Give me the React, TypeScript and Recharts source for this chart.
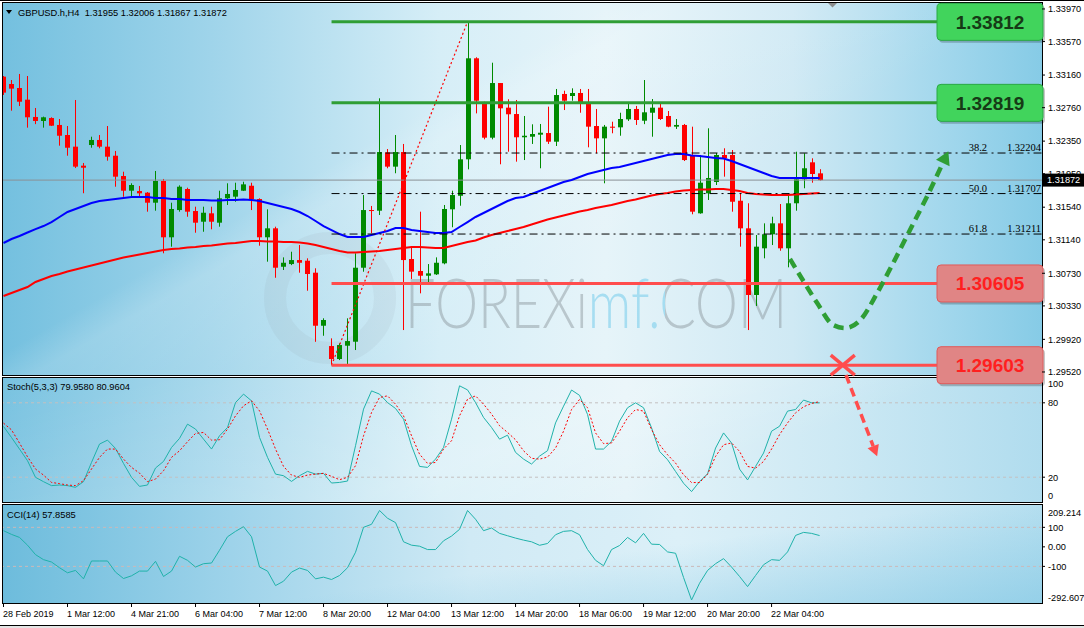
import React from "react";
import { ComposedChart, Bar, Line, XAxis, YAxis, ReferenceLine, ReferenceDot } from "recharts";

// GBPUSD.h H4 candles, 28 Feb - 22 Mar 2019
const opens = [
  1.3314, 1.3305, 1.33001, 1.32858, 1.32646, 1.32597, 1.32633, 1.32548, 1.32425, 1.32282,
  1.32049, 1.32302, 1.32364, 1.32282, 1.32171, 1.31922, 1.31742, 1.31738, 1.31718, 1.31595,
  1.31861, 1.31171, 1.31505, 1.31763, 1.31493, 1.31362, 1.31465, 1.3135, 1.31649, 1.31669,
  1.31742, 1.31803, 1.3164, 1.31171, 1.31281, 1.3081, 1.30843, 1.30892, 1.30884, 1.30737,
  1.30087, 1.29838, 1.29679, 1.29842, 1.29891, 1.30798, 1.31505, 1.31497, 1.32212, 1.32037,
  1.32216, 1.30905, 1.30758, 1.307, 1.30717, 1.30852, 1.31514, 1.3168, 1.32127, 1.33365,
  1.32805, 1.32392, 1.33062, 1.3276, 1.32682, 1.32397, 1.32404, 1.32429, 1.32449, 1.32343,
  1.32928, 1.32903, 1.3294, 1.32814, 1.32535, 1.32384, 1.32527, 1.32519, 1.32617, 1.32744,
  1.326, 1.32698, 1.3276, 1.32658, 1.32527, 1.32548, 1.3218, 1.31465, 1.3171, 1.31849,
  1.3218, 1.3218, 1.31619, 1.31281, 1.30464, 1.31036, 1.31208, 1.31342, 1.31036, 1.31588,
  1.31882, 1.3209, 1.31955,
];
const highs = [
  1.33148, 1.33099, 1.33173, 1.33148, 1.32756, 1.3265, 1.32642, 1.32621, 1.32535, 1.32854,
  1.32082, 1.32404, 1.32425, 1.32535, 1.32229, 1.31975, 1.31833, 1.318, 1.31726, 1.31984,
  1.31886, 1.31595, 1.31808, 1.31779, 1.31546, 1.31546, 1.31546, 1.31742, 1.31833, 1.3184,
  1.31852, 1.3184, 1.31649, 1.31514, 1.31301, 1.30925, 1.30994, 1.31076, 1.30913, 1.30791,
  1.30178, 1.29932, 1.29871, 1.30178, 1.30975, 1.31689, 1.31555, 1.32875, 1.32253, 1.32425,
  1.32315, 1.31056, 1.31485, 1.30843, 1.30925, 1.31567, 1.31742, 1.32302, 1.33812, 1.33378,
  1.32833, 1.33311, 1.33062, 1.32863, 1.32854, 1.32658, 1.32556, 1.3256, 1.32772, 1.32989,
  1.32968, 1.32997, 1.32989, 1.32989, 1.32744, 1.32548, 1.32588, 1.32698, 1.32821, 1.32781,
  1.33099, 1.32866, 1.32805, 1.32719, 1.32621, 1.3256, 1.32527, 1.3218, 1.32507, 1.32204,
  1.32262, 1.32241, 1.3171, 1.31588, 1.31199, 1.31342, 1.31423, 1.31579, 1.3171, 1.3222,
  1.322, 1.32139, 1.32006,
];
const lows = [
  1.32916, 1.32723, 1.3278, 1.32515, 1.32558, 1.32515, 1.32535, 1.32294, 1.32171, 1.3202,
  1.31711, 1.32269, 1.32262, 1.3211, 1.31791, 1.31668, 1.31668, 1.31668, 1.31485, 1.31497,
  1.30975, 1.31056, 1.31485, 1.31423, 1.31227, 1.31239, 1.31269, 1.31301, 1.31567, 1.31607,
  1.31738, 1.31505, 1.31068, 1.30872, 1.30675, 1.3077, 1.3083, 1.30737, 1.30516, 1.2989,
  1.29964, 1.29603, 1.29666, 1.29617, 1.29789, 1.30749, 1.3122, 1.31444, 1.32017, 1.31956,
  1.30034, 1.3066, 1.30484, 1.30586, 1.30709, 1.3084, 1.31294, 1.31558, 1.32004, 1.3269,
  1.32372, 1.32372, 1.32066, 1.3222, 1.32098, 1.32118, 1.32315, 1.32017, 1.32315, 1.3229,
  1.32731, 1.32845, 1.32698, 1.32274, 1.322, 1.31833, 1.32446, 1.32416, 1.32597, 1.32548,
  1.32558, 1.32404, 1.32609, 1.3252, 1.32499, 1.32106, 1.31453, 1.3146, 1.31628, 1.31812,
  1.31914, 1.31485, 1.31056, 1.30034, 1.30329, 1.30913, 1.31076, 1.31006, 1.30803, 1.31497,
  1.31772, 1.3184, 1.31867,
];
const closes = [
  1.32944, 1.32993, 1.32833, 1.32642, 1.32597, 1.32642, 1.32539, 1.32416, 1.32269, 1.32037,
  1.32024, 1.32364, 1.32282, 1.32159, 1.31914, 1.31742, 1.31812, 1.3171, 1.31595, 1.31861,
  1.31171, 1.31518, 1.31791, 1.31485, 1.3135, 1.31472, 1.31362, 1.31649, 1.31702, 1.31751,
  1.3182, 1.31637, 1.31171, 1.31281, 1.30798, 1.30859, 1.30892, 1.30859, 1.30721, 1.30087,
  1.30157, 1.29679, 1.2985, 1.29899, 1.30798, 1.31505, 1.31493, 1.32216, 1.32037, 1.32216,
  1.30892, 1.3075, 1.307, 1.30729, 1.30859, 1.31518, 1.31689, 1.32127, 1.33365, 1.32845,
  1.32392, 1.33062, 1.32752, 1.32679, 1.32397, 1.32416, 1.32437, 1.32453, 1.32343, 1.32915,
  1.32845, 1.3294, 1.32805, 1.32527, 1.32384, 1.32527, 1.32514, 1.32621, 1.32744, 1.32609,
  1.32703, 1.3276, 1.32621, 1.32527, 1.32548, 1.32118, 1.31485, 1.3184, 1.31898, 1.3218,
  1.32139, 1.31607, 1.31281, 1.30464, 1.31056, 1.31208, 1.31342, 1.31036, 1.31588, 1.31882,
  1.32017, 1.31947, 1.31872,
];
// blue (fast) and red (slow) moving averages
const maFast = [
  1.31101, 1.3115, 1.31187, 1.3123, 1.31272, 1.31309, 1.31358, 1.3142, 1.31481, 1.31518,
  1.31554, 1.31591, 1.31616, 1.31628, 1.3164, 1.31653, 1.31665, 1.31665, 1.31665, 1.31653,
  1.31653, 1.3164, 1.3164, 1.31628, 1.31628, 1.31628, 1.31622, 1.31622, 1.31628, 1.31628,
  1.31634, 1.31628, 1.31616, 1.31591, 1.31567, 1.31542, 1.31518, 1.31481, 1.31432, 1.31371,
  1.31309, 1.3126, 1.31211, 1.31174, 1.31174, 1.31174, 1.31199, 1.31223, 1.31248, 1.31285,
  1.31285, 1.3126, 1.31248, 1.31236, 1.31223, 1.31223, 1.31236, 1.31297, 1.31358, 1.3142,
  1.31469, 1.31518, 1.31567, 1.31616, 1.31653, 1.31665, 1.31702, 1.31738, 1.31775, 1.31812,
  1.31849, 1.31873, 1.3191, 1.31947, 1.31971, 1.31996, 1.3202, 1.32033, 1.32057, 1.32081,
  1.32106, 1.3213, 1.32155, 1.3218, 1.32192, 1.32192, 1.32174, 1.32167, 1.32155, 1.32143,
  1.32137, 1.32106, 1.32069, 1.32033, 1.31996, 1.31959, 1.31922, 1.31898, 1.31898, 1.31898,
  1.31898, 1.31898, 1.31898,
];
const maSlow = [
  1.30451, 1.30488, 1.30525, 1.30561, 1.30623, 1.30659, 1.30696, 1.30721, 1.30751, 1.30776,
  1.308, 1.30825, 1.30849, 1.30874, 1.30898, 1.30923, 1.30941, 1.3096, 1.30978, 1.30997,
  1.31015, 1.31027, 1.31033, 1.31046, 1.31052, 1.31064, 1.3107, 1.31082, 1.31095, 1.31101,
  1.31113, 1.31125, 1.31125, 1.31119, 1.31119, 1.31113, 1.31113, 1.31107, 1.31095, 1.31076,
  1.31052, 1.31027, 1.31003, 1.30984, 1.30984, 1.3099, 1.30997, 1.31003, 1.31015, 1.31027,
  1.3104, 1.31052, 1.31052, 1.31046, 1.3104, 1.3104, 1.31064, 1.31089, 1.31113, 1.31132,
  1.31168, 1.31199, 1.31223, 1.31248, 1.31272, 1.31297, 1.31328, 1.31358, 1.31389, 1.31413,
  1.31438, 1.31462, 1.31487, 1.31505, 1.3153, 1.31548, 1.31567, 1.31591, 1.31616, 1.31634,
  1.31659, 1.31683, 1.31702, 1.31714, 1.31732, 1.31745, 1.31751, 1.31757, 1.31757, 1.31763,
  1.31763, 1.31751, 1.31739, 1.31714, 1.31702, 1.31695, 1.31689, 1.31689, 1.31689, 1.31695,
  1.31702, 1.31708, 1.31714,
];
const stochMain = [
  60.9, 52, 42.7, 33.3, 19.9, 16.4, 13.2, 13.7, 13.2, 11.8,
  16.4, 31.9, 46.7, 49.9, 43.2, 31.1, 19.9, 12.6, 13.7, 27.4,
  32.7, 44, 51.3, 62.8, 58.8, 50.7, 42.7, 53.4, 60.1, 80.2,
  87, 81.6, 52.1, 36, 22.5, 21.2, 16.6, 21.2, 24.7, 22.5,
  23.1, 15.3, 15.8, 16.9, 45.4, 74.9, 89.6, 87, 80.2, 75.4,
  66.8, 45.4, 28.7, 27.9, 34.6, 44, 66.8, 93.7, 90.4, 80.2,
  68.2, 60.1, 50.7, 53.9, 40, 34.6, 30.6, 37, 41.4, 63.8,
  77.3, 90.3, 86, 70.6, 42.7, 42.7, 48.9, 65.2, 76, 80,
  76, 59.8, 40.8, 34.1, 24.6, 15.1, 8.4, 16.5, 22.7, 43.5,
  55.7, 47.6, 26.5, 17.8, 28.7, 39.5, 57.1, 61.1, 73.3, 74.6,
  82.2, 80, 79.958,
];
const stochSignal = [
  63.6, 58.2, 47.5, 36.5, 26.6, 21.7, 15.8, 14.8, 13.7, 13.2,
  17.2, 26.6, 36, 42.7, 42.7, 34.6, 27.9, 23.3, 16.4, 18.5,
  25.2, 36, 41.3, 48.6, 55.3, 56.1, 49.9, 50.2, 58.8, 69.5,
  77.6, 81.6, 73.5, 58.8, 42.7, 28.7, 21.7, 19.9, 21.7, 22.5,
  23.1, 20.7, 18, 19.9, 29.3, 53.4, 72.2, 84.3, 85.6, 78.9,
  69.5, 53.4, 38.6, 31.1, 31.9, 42.7, 49.4, 69.5, 82.9, 85.6,
  78.9, 70.9, 61.5, 56.1, 50.2, 41.3, 35.2, 34.6, 36.2, 43.5,
  57.1, 74.6, 82.7, 76, 55.7, 47.1, 47.6, 57.1, 67.9, 74.6,
  73.3, 58.4, 46.2, 38.1, 31.4, 21.9, 15.7, 15.7, 22.4, 36.8,
  46.2, 47.6, 40.8, 28.7, 27.3, 32.7, 42.7, 54.4, 63.8, 71.9,
  76.8, 79.5, 80.9604,
];
const cciValues = [
  82.8, 63.8, 48.3, 8.6, -39.7, -65.5, -77.6, -106.9, -132.8, -120.7,
  -163.8, -72.4, -72.4, -72.4, -129.3, -162.1, -148.3, -124.1, -124.1, -74.1,
  -151.7, -124.1, -48.3, -69, -103.4, -86.2, -82.8, -17.2, 51.7, 79.3,
  103.4, 51.7, -103.4, -124.1, -198.3, -175.9, -129.3, -108.6, -120.7, -163.8,
  -155.2, -167.2, -146.6, -106.9, -27.6, 100, 115.5, 186.2, 146.6, 124.1,
  25.9, 8.6, 3.4, -13.8, -13.8, 31, 55.2, 89.7, 186.2, 141.4,
  82.8, 96.6, 69, 56.9, 44.8, 34.5, 25.9, 8, 17.2, 62.1,
  79.3, 82.8, 62.1, -13.8, -69, -96.6, -13.8, 6.9, 48.3, 20.7,
  69, 13.8, 12.1, -25.9, -32.8, -157, -272, -186.2, -120.7, -86.2,
  -60.3, -103.4, -151.7, -203.4, -146.6, -91.4, -65.5, -69, -25.9, 58.6,
  74.1, 69, 57.8585,
];

const timeLabels = [
  "28 Feb 2019", "1 Mar 12:00", "4 Mar 21:00", "6 Mar 04:00", "7 Mar 12:00", "8 Mar 20:00",
  "12 Mar 04:00", "13 Mar 12:00", "14 Mar 20:00", "18 Mar 06:00", "19 Mar 12:00",
  "20 Mar 20:00", "22 Mar 04:00",
];
const timeLabelBars = [0, 8, 16, 24, 32, 40, 48, 56, 64, 72, 80, 88, 96];
const priceTicks = [1.3397, 1.3357, 1.3316, 1.3276, 1.3235, 1.3195, 1.3154, 1.3114, 1.3073, 1.3033, 1.2992, 1.2952];
const stochGridTicks = [20, 80];
const cciTicks = [-292.6078, -100, 0, 100, 209.214];
const cciTickLabels = ["-292.6078", "-100", "0.00", "100", "209.214"];

// drawn objects
const resistanceLevels = [1.33812, 1.32819];
const supportLevels = [1.30605, 1.29603];
const fibRatios = ["38.2", "50.0", "61.8"];
const fibPrices = [1.32204, 1.31707, 1.31211];
const swingLowBar = 41;
const swingHighBar = 58;
const lastPrice = 1.31872;
// scenario arrows (bar index / price)
const bounceBars = [98.3, 99.9, 101.7, 103.7, 105.2, 107.1, 109.2, 111.2, 113.3, 115.4, 117.4];
const bouncePrices = [1.30905, 1.30647, 1.30365, 1.30096, 1.30059, 1.30157, 1.30488, 1.30856, 1.31261, 1.31665, 1.32082];
const breakBars = [105.3, 108.7];
const breakPrices = [1.29483, 1.28612];
const breakMarkBar = 104.9;

const priceRows = opens.map((o, i) => ({
  k: i,
  o,
  h: highs[i],
  l: lows[i],
  c: closes[i],
  range: [lows[i], highs[i]],
  maFast: maFast[i],
  maSlow: maSlow[i],
}));
const oscRows = stochMain.map((v, i) => ({ k: i, main: v, signal: stochSignal[i], cci: cciValues[i] }));
const bounceRows = bounceBars.map((k, i) => ({ k, p: bouncePrices[i] }));

const W = 1084;
const X_DOMAIN = [-0.0625, 129.8];
const P_DOMAIN = [1.29483, 1.34043];
const FONT = '"Liberation Sans", Arial, sans-serif';
const BULL = "#008a00";
const BEAR = "#ff0000";
const LEVEL_GREEN = "#2f9e35";
const LEVEL_RED = "#ff4d4d";
const TEAL = "#20b2aa";

const arrowPoints = (bx: number, by: number, ang: number, len: number, half: number) => {
  const cos = Math.cos(ang);
  const sin = Math.sin(ang);
  const tx = bx + cos * len;
  const ty = by + sin * len;
  return `${tx},${ty} ${bx - sin * half},${by + cos * half} ${bx + sin * half},${by - cos * half}`;
};

const Candle = (props: any) => {
  const { x, y, width, height, payload } = props;
  if (!payload) return <g />;
  const { o, h, l, c } = payload;
  const top = Math.min(y, y + height);
  const hh = Math.abs(height);
  const per = h - l > 0 ? hh / (h - l) : 0;
  const cx = Math.round(x + width / 2) + 0.5;
  const yO = top + (h - o) * per;
  const yC = top + (h - c) * per;
  const col = c >= o ? BULL : BEAR;
  const bTop = Math.min(yO, yC);
  const bH = Math.max(1, Math.abs(yC - yO));
  return (
    <g>
      <line x1={cx} x2={cx} y1={top} y2={top + hh} stroke={col} strokeWidth={1} />
      <rect x={cx - 2.5} y={bTop} width={5} height={bH} fill={col} />
    </g>
  );
};

const PriceTick = (p: any) => (
  <text x={p.x} y={p.y} dy={3.3} fontSize={9.2} fontFamily={FONT} fill="#000" textAnchor="start">
    {Number(p.payload.value).toFixed(5)}
  </text>
);

const StochTick = (p: any) => (
  <g>
    <line x1={p.x - 6} x2={p.x - 3} y1={p.y} y2={p.y} stroke="#000" />
    <text x={p.x} y={p.y} dy={3.3} fontSize={9.2} fontFamily={FONT} fill="#000">
      {String(p.payload.value)}
    </text>
  </g>
);

const CciTick = (p: any) => {
  const v = p.payload.value;
  const i = cciTicks.indexOf(v);
  const shift = i === cciTicks.length - 1 ? 6.5 : i === 0 ? -6.3 : 0;
  return (
    <g>
      {shift === 0 && <line x1={p.x - 6} x2={p.x - 3} y1={p.y} y2={p.y} stroke="#000" />}
      <text x={p.x} y={p.y + shift} dy={3.3} fontSize={9.2} fontFamily={FONT} fill="#000">
        {cciTickLabels[i]}
      </text>
    </g>
  );
};

const TimeTick = (p: any) => {
  const i = timeLabelBars.indexOf(p.payload.value);
  return (
    <text x={p.x - 0.5} y={p.y} dy={7.5} fontSize={9} fontFamily={FONT} fill="#000" textAnchor="start">
      {timeLabels[i]}
    </text>
  );
};

const levelBox = (text: string, fill: string, border: string, color: string) => (p: any) => {
  const vb = p.viewBox || {};
  const right = vb.x + vb.width;
  const cy = vb.y;
  const bx = right - 105;
  return (
    <g>
      <rect x={bx + 2} y={cy - 16} width={106} height={37} rx={4} fill="rgba(0,0,0,0.22)" />
      <rect x={bx} y={cy - 18.5} width={106} height={37} rx={4} fill={fill} stroke={border} strokeWidth={1} />
      <text x={bx + 53} y={cy + 7} textAnchor="middle" fontSize={19} fontWeight="bold" fontFamily={FONT} fill={color}>
        {text}
      </text>
    </g>
  );
};

const fibLabel = (ratio: string, price: number) => (p: any) => {
  const vb = p.viewBox || {};
  const right = vb.x + vb.width;
  return (
    <g fontFamily='"Liberation Serif", "Times New Roman", serif' fontSize={10.5} fill="#000">
      <text x={right - 55} y={vb.y - 2} textAnchor="end">
        {ratio}
      </text>
      <text x={right - 1} y={vb.y - 2} textAnchor="end">
        {price.toFixed(5)}
      </text>
    </g>
  );
};

const lastPriceLabel = (p: any) => {
  const vb = p.viewBox || {};
  const right = vb.x + vb.width;
  return (
    <g>
      <rect x={right + 1} y={vb.y - 6.5} width={41} height={13} fill="#000" />
      <text x={right + 5} y={vb.y + 3.3} fontSize={9.2} fontFamily={FONT} fill="#fff">
        {lastPrice.toFixed(5)}
      </text>
    </g>
  );
};

const BreakArrow = (p: any) => {
  const { x1, y1, x2, y2 } = p;
  const ang = Math.atan2(y2 - y1, x2 - x1);
  return (
    <g>
      <line x1={x1} y1={y1} x2={x2} y2={y2} stroke={LEVEL_RED} strokeWidth={3.5} strokeDasharray="9 5" />
      <polygon points={arrowPoints(x2, y2, ang, 11, 6)} fill={LEVEL_RED} />
    </g>
  );
};

const BreakMark = (p: any) => (
  <g stroke={LEVEL_RED} strokeWidth={3.5}>
    <line x1={p.cx - 12} y1={p.cy - 10} x2={p.cx + 12} y2={p.cy + 10} />
    <line x1={p.cx - 12} y1={p.cy + 10} x2={p.cx + 12} y2={p.cy - 10} />
  </g>
);

const bounceDot = (p: any) => {
  if (p.index !== bounceBars.length - 1) return <g key={`b${p.index}`} />;
  return <polygon key="head" points={arrowPoints(p.cx, p.cy, Math.atan2(-34, 16), 13, 7.5)} fill={LEVEL_GREEN} />;
};

const panelStyle = (top: number, height: number, bg: string): React.CSSProperties => ({
  position: "absolute",
  left: 2,
  top,
  width: 1041,
  height,
  border: "1px solid #000",
  boxSizing: "border-box",
  background: bg,
});

const mainBg =
  "linear-gradient(150deg, rgba(255,255,255,0) 0%, rgba(255,255,255,0) 36%, rgba(255,255,255,0.16) 40%, rgba(255,255,255,0) 62%), " +
  "linear-gradient(90deg, #74c0df 0%, #9fd4ea 20%, #d6eef7 42%, #e6f4f9 58%, #cfe9f4 76%, #a4d8ed 90%, #86cbe6 100%)";
const stochBg =
  "linear-gradient(160deg, rgba(255,255,255,0) 0%, rgba(255,255,255,0.22) 50%, rgba(255,255,255,0) 70%), " +
  "linear-gradient(90deg, #78c2e0 0%, #a3d6eb 20%, #d8eff7 42%, #e6f4f9 60%, #cde9f4 80%, #b0dcee 100%)";
const cciBg =
  "linear-gradient(172deg, rgba(120,195,226,0) 55%, rgba(120,195,226,0.55) 100%), " +
  "linear-gradient(90deg, #6dbcdc 0%, #9ed3ea 22%, #d0eaf5 45%, #dcf0f8 65%, #cbe8f4 85%, #b8e0f0 100%)";

export default function App() {
  return (
    <div style={{ position: "absolute", left: 0, top: 0, width: W, height: 628, background: "#fff", overflow: "hidden" }}>
      <div style={{ position: "absolute", left: 0, top: 0, width: W, height: 1, background: "#000" }} />
      <div style={panelStyle(2, 374, mainBg)} />
      <div style={panelStyle(377, 126, stochBg)} />
      <div style={panelStyle(504, 100, cciBg)} />
      <div style={{ position: "absolute", left: 0, top: 625, width: W, height: 1, background: "#000" }} />
      <div style={{ position: "absolute", left: 0, top: 626, width: W, height: 2, background: "#e4e4e4" }} />

      {/* watermark */}
      <svg width={W} height={628} style={{ position: "absolute", left: 0, top: 0 }}>
        <defs>
          <linearGradient id="wmFill" gradientUnits="userSpaceOnUse" x1={405} y1={0} x2={787} y2={0}>
            <stop offset="0.47" stopColor="rgba(128,138,144,0.42)" />
            <stop offset="0.47" stopColor="rgba(140,212,238,0.7)" />
            <stop offset="0.68" stopColor="rgba(140,212,238,0.7)" />
            <stop offset="0.68" stopColor="rgba(128,138,144,0.42)" />
          </linearGradient>
        </defs>
        <circle cx={330} cy={298} r={55} fill="none" stroke="rgba(140,150,156,0.1)" strokeWidth={22} />
        <text
          x={405}
          y={328}
          textLength={382}
          lengthAdjust="spacingAndGlyphs"
          fontFamily='Lato, "Open Sans", sans-serif'
          fontWeight={300}
          fontSize={68}
          fill="url(#wmFill)"
        >
          FOREXimf.COM
        </text>
      </svg>

      {/* Stochastic */}
      <div style={{ position: "absolute", left: 0, top: 378 }}>
        <ComposedChart width={W} height={124} data={oscRows} margin={{ top: 0, right: 0, bottom: 0, left: 3 }}>
          <XAxis type="number" dataKey="k" domain={X_DOMAIN} allowDataOverflow hide />
          <YAxis
            orientation="right"
            width={42}
            domain={[0, 100]}
            ticks={stochGridTicks}
            interval={0}
            allowDataOverflow
            axisLine={false}
            tickLine={false}
            tickSize={3}
            tickMargin={3}
            tick={<StochTick />}
          />
          <ReferenceLine y={80} stroke="#c4c0c0" strokeDasharray="3 3" />
          <ReferenceLine y={20} stroke="#c4c0c0" strokeDasharray="3 3" />
          <Line dataKey="main" stroke={TEAL} strokeWidth={1} dot={false} activeDot={false} type="linear" isAnimationActive={false} />
          <Line dataKey="signal" stroke="#ff0000" strokeWidth={1} strokeDasharray="2 2" dot={false} activeDot={false} type="linear" isAnimationActive={false} />
        </ComposedChart>
      </div>

      {/* CCI */}
      <div style={{ position: "absolute", left: 0, top: 505 }}>
        <ComposedChart width={W} height={123} data={oscRows} margin={{ top: 1, right: 0, bottom: 0, left: 3 }}>
          <XAxis
            type="number"
            dataKey="k"
            domain={X_DOMAIN}
            allowDataOverflow
            ticks={timeLabelBars}
            interval={0}
            height={24}
            axisLine={false}
            tickLine={{ stroke: "#000" }}
            tickSize={3}
            tickMargin={2}
            tick={<TimeTick />}
          />
          <YAxis
            orientation="right"
            width={42}
            domain={[cciTicks[0], cciTicks[cciTicks.length - 1]]}
            ticks={cciTicks}
            interval={0}
            allowDataOverflow
            axisLine={false}
            tickLine={false}
            tickSize={3}
            tickMargin={3}
            tick={<CciTick />}
          />
          <ReferenceLine y={100} stroke="#cbb9b9" strokeDasharray="3 3" />
          <ReferenceLine y={-100} stroke="#cbb9b9" strokeDasharray="3 3" />
          <Line dataKey="cci" stroke={TEAL} strokeWidth={1} dot={false} activeDot={false} type="linear" isAnimationActive={false} />
        </ComposedChart>
      </div>

      {/* price panel */}
      <div style={{ position: "absolute", left: 0, top: 0 }}>
        <ComposedChart width={W} height={460} data={priceRows} margin={{ top: 3, right: 0, bottom: 85, left: 3 }}>
          <XAxis type="number" dataKey="k" domain={X_DOMAIN} allowDataOverflow hide />
          <YAxis
            orientation="right"
            width={42}
            domain={P_DOMAIN}
            ticks={priceTicks}
            interval={0}
            allowDataOverflow
            axisLine={false}
            tickLine={{ stroke: "#000" }}
            tickSize={3}
            tickMargin={3}
            tick={<PriceTick />}
          />
          <ReferenceLine y={lastPrice} stroke="#8a9196" strokeWidth={1} label={lastPriceLabel} />
          <Bar dataKey="range" barSize={5} shape={Candle} isAnimationActive={false} />
          <Line dataKey="maSlow" stroke="#ff0000" strokeWidth={2} dot={false} activeDot={false} type="linear" isAnimationActive={false} />
          <Line dataKey="maFast" stroke="#0000ff" strokeWidth={2} dot={false} activeDot={false} type="linear" isAnimationActive={false} />
          {fibPrices.map((fp, i) => (
            <ReferenceLine
              key={`fib${i}`}
              segment={[{ x: swingLowBar, y: fp }, { x: X_DOMAIN[1], y: fp }]}
              stroke="#000"
              strokeWidth={1}
              strokeDasharray="8 4 2 4"
              label={fibLabel(fibRatios[i], fp)}
            />
          ))}
          <ReferenceLine
            segment={[{ x: swingLowBar, y: lows[swingLowBar] }, { x: swingHighBar, y: highs[swingHighBar] }]}
            stroke="#ff0000"
            strokeWidth={1.2}
            strokeDasharray="2 2.5"
          />
          {resistanceLevels.map((lv, i) => (
            <ReferenceLine
              key={`res${i}`}
              segment={[{ x: swingLowBar, y: lv }, { x: X_DOMAIN[1], y: lv }]}
              stroke={LEVEL_GREEN}
              strokeWidth={3}
              label={levelBox(lv.toFixed(5), "#41d45c", "#2aa845", "#163a16")}
            />
          ))}
          {supportLevels.map((lv, i) => (
            <ReferenceLine
              key={`sup${i}`}
              segment={[{ x: swingLowBar, y: lv }, { x: X_DOMAIN[1], y: lv }]}
              stroke={LEVEL_RED}
              strokeWidth={3}
              ifOverflow="visible"
              label={levelBox(lv.toFixed(5), "#e08585", "#e05a5a", "#ff1f1f")}
            />
          ))}
          <Line
            data={bounceRows}
            dataKey="p"
            stroke={LEVEL_GREEN}
            strokeWidth={4.5}
            strokeDasharray="10 6"
            type="monotone"
            dot={bounceDot}
            activeDot={false}
            isAnimationActive={false}
          />
          <ReferenceDot x={breakMarkBar} y={supportLevels[1]} r={10} ifOverflow="visible" shape={BreakMark} />
          <ReferenceLine
            segment={[{ x: breakBars[0], y: breakPrices[0] }, { x: breakBars[1], y: breakPrices[1] }]}
            ifOverflow="visible"
            shape={BreakArrow}
          />
        </ComposedChart>
      </div>

      {/* panel titles and the stochastic edge labels */}
      <svg width={W} height={628} style={{ position: "absolute", left: 0, top: 0, pointerEvents: "none" }}>
        <polygon points="6,10 12,10 9,14" fill="#000" />
        <text x={18} y={15.5} fontSize={9.3} fontFamily={FONT} fill="#000" style={{ whiteSpace: "pre" }}>
          {"GBPUSD.h,H4  1.31955 1.32006 1.31867 1.31872"}
        </text>
        <polygon points="828,3 837,3 832.5,7.5" fill="#8c8c8c" />
        <text x={7} y={389.5} fontSize={9.3} fontFamily={FONT} fill="#000" style={{ whiteSpace: "pre" }}>
          {"Stoch(5,3,3) 79.9580 80.9604"}
        </text>
        <text x={1048} y={387.3} fontSize={9.2} fontFamily={FONT} fill="#000">
          100
        </text>
        <text x={1048} y={498.6} fontSize={9.2} fontFamily={FONT} fill="#000">
          0
        </text>
        <text x={7} y={517.5} fontSize={9.3} fontFamily={FONT} fill="#000" style={{ whiteSpace: "pre" }}>
          {"CCI(14) 57.8585"}
        </text>
      </svg>
    </div>
  );
}
